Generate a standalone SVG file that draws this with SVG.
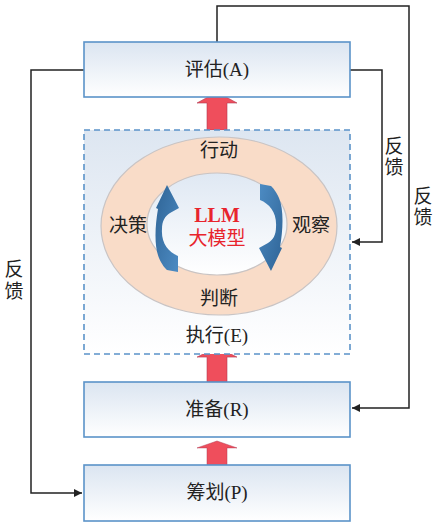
<svg xmlns="http://www.w3.org/2000/svg" width="445" height="525" viewBox="0 0 445 525">
<defs>
<linearGradient id="boxg" x1="0" y1="0" x2="0" y2="1">
<stop offset="0" stop-color="#dbe5f1"/>
<stop offset="1" stop-color="#ffffff"/>
</linearGradient>
<linearGradient id="dashg" x1="0" y1="0" x2="0" y2="1">
<stop offset="0" stop-color="#dde6f1"/>
<stop offset="1" stop-color="#ffffff"/>
</linearGradient>
<linearGradient id="innerg" x1="0" y1="0" x2="0" y2="1">
<stop offset="0" stop-color="#dfe8f3"/>
<stop offset="1" stop-color="#ffffff"/>
</linearGradient>
<linearGradient id="bluearr" x1="0" y1="0" x2="1" y2="1">
<stop offset="0" stop-color="#2f6496"/>
<stop offset="1" stop-color="#4d8cc4"/>
</linearGradient>
<marker id="ah" viewBox="0 0 10 10" refX="10" refY="5" markerWidth="10" markerHeight="8" markerUnits="userSpaceOnUse" orient="auto">
<path d="M0,0 L10,5 L0,10 Z" fill="#222"/>
</marker>
<path id="bigarrow" d="M-10,11 L-20,11 L0,0 L20,11 L10,11 L10,38 L-10,38 Z"/>
<path id="curv" d="M178,272 L178,256 C168,252 161,243 162,229 C162,221 165,216 170,213 L179,208 L167,185 L156,208 L158,209 C155,226 154,246 159,258 C162,265 165,268 167,270 Z"/>
</defs>
<style>
.box{fill:url(#boxg);stroke:#5b93c9;stroke-width:1.6}
.lbl{font-family:"Liberation Serif","Noto Sans CJK SC",serif;font-size:19px;fill:#222;text-anchor:middle}
.fb{font-family:"Liberation Serif","Noto Sans CJK SC",serif;font-size:19px;fill:#222;text-anchor:middle}
.conn{fill:none;stroke:#222;stroke-width:1.5}
.red{fill:#ef4e5c;stroke:#b23a52;stroke-width:0.6}
</style>

<g id="connectors">
<polyline class="conn" points="217,42 217,6 409,6 409,408 352,408" marker-end="url(#ah)"/>
<polyline class="conn" points="350,70 382,70 382,242 352,242" marker-end="url(#ah)"/>
<polyline class="conn" points="84,70 31,70 31,493 82,493" marker-end="url(#ah)"/>
<use href="#bigarrow" class="red" transform="translate(217,92) scale(1,1)"/>
<use href="#bigarrow" class="red" transform="translate(217,347) scale(1,0.92)"/>
<use href="#bigarrow" class="red" transform="translate(217,441) scale(1,0.63)"/>
</g>

<g id="labels-feedback">
<text class="fb" x="394" y="153">反</text>
<text class="fb" x="394" y="174">馈</text>
<text class="fb" x="423" y="203">反</text>
<text class="fb" x="423" y="224">馈</text>
<text class="fb" x="14" y="276">反</text>
<text class="fb" x="14" y="298">馈</text>
</g>

<g id="node-A">
<rect class="box" x="84" y="42" width="266" height="55"/>
<text class="lbl" x="217" y="76">评估(A)</text>
</g>

<g id="node-E">
<rect x="84" y="130" width="266" height="224" fill="url(#dashg)" stroke="#5b93c9" stroke-width="1.6" stroke-dasharray="6,4"/>
<ellipse cx="219" cy="226" rx="118" ry="89" fill="#f9dcc8" stroke="#c9c4c4" stroke-width="1.2"/>
<ellipse cx="217" cy="224" rx="70" ry="51" fill="url(#innerg)" stroke="#c9c4c4" stroke-width="1.2"/>
<use href="#curv" fill="url(#bluearr)"/>
<use href="#curv" fill="url(#bluearr)" transform="rotate(180,219,228)"/>
<text class="lbl" x="219" y="157">行动</text>
<text class="lbl" x="128" y="232">决策</text>
<text class="lbl" x="311" y="232">观察</text>
<text class="lbl" x="219" y="305">判断</text>
<text x="217" y="222" font-family="'Liberation Serif',serif" font-size="20" font-weight="bold" fill="#e8242d" text-anchor="middle">LLM</text>
<text x="217" y="245" font-family="'Liberation Serif','Noto Sans CJK SC',serif" font-size="19" fill="#e8242d" text-anchor="middle">大模型</text>
<text class="lbl" x="217" y="342">执行(E)</text>
</g>

<g id="node-R">
<rect class="box" x="84" y="382" width="266" height="55"/>
<text class="lbl" x="217" y="416">准备(R)</text>
</g>

<g id="node-P">
<rect class="box" x="84" y="465" width="266" height="56"/>
<text class="lbl" x="217" y="499">筹划(P)</text>
</g>
</svg>
